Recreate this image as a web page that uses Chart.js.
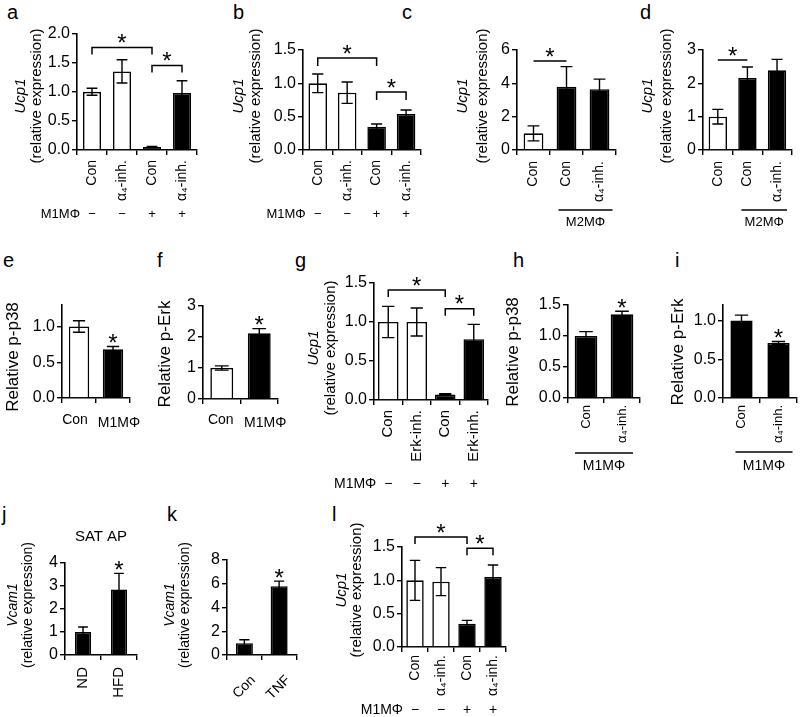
<!DOCTYPE html>
<html>
<head>
<meta charset="utf-8">
<script src="https://cdn.jsdelivr.net/npm/chart.js@4.4.1/dist/chart.umd.min.js"></script>
<style>
  body { margin: 0; background: #fff; width: 800px; height: 717px; position: relative; overflow: hidden;
         font-family: "Liberation Sans", Arial, sans-serif; }
  canvas { position: absolute; }
  .lt { position: absolute; font-size: 20px; line-height: 20px; color: #000; }
</style>
</head>
<body>
<div class="lt" style="left:7px;top:2px">a</div>
<div class="lt" style="left:233px;top:2px">b</div>
<div class="lt" style="left:402px;top:2px">c</div>
<div class="lt" style="left:640px;top:2px">d</div>
<div class="lt" style="left:3px;top:250px">e</div>
<div class="lt" style="left:157px;top:250px">f</div>
<div class="lt" style="left:295px;top:250px">g</div>
<div class="lt" style="left:513px;top:250px">h</div>
<div class="lt" style="left:675px;top:250px">i</div>
<div class="lt" style="left:2px;top:504px">j</div>
<div class="lt" style="left:167px;top:504px">k</div>
<div class="lt" style="left:332px;top:504px">l</div>
<script>
const FONT = '"Liberation Sans", Arial, sans-serif';

// values (mean, error)
const aLabels = ['Con', 'α₄-inh.', 'Con', 'α₄-inh.'];
const aValues = [1.0, 1.35, 0.05, 0.98];
const aErrors = [0.06, 0.2, 0.01, 0.21];
const aSigns = ['−', '−', '+', '+'];

const bLabels = ['Con', 'α₄-inh.', 'Con', 'α₄-inh.'];
const bValues = [1.0, 0.86, 0.35, 0.54];
const bErrors = [0.14, 0.16, 0.04, 0.06];
const bSigns = ['−', '−', '+', '+'];

const cLabels = ['Con', 'Con', 'α₄-inh.'];
const cValues = [1.0, 3.8, 3.65];
const cErrors = [0.45, 1.2, 0.6];

const dLabels = ['Con', 'Con', 'α₄-inh.'];
const dValues = [1.0, 2.16, 2.39];
const dErrors = [0.22, 0.33, 0.33];

const eLabels = ['Con', 'M1MΦ'];
const eValues = [1.0, 0.68];
const eErrors = [0.08, 0.04];

const fLabels = ['Con', 'M1MΦ'];
const fValues = [1.0, 2.12];
const fErrors = [0.07, 0.15];

const gLabels = ['Con', 'Erk-inh.', 'Con', 'Erk-inh.'];
const gValues = [1.0, 1.0, 0.07, 0.78];
const gErrors = [0.2, 0.18, 0.01, 0.19];
const gSigns = ['−', '−', '+', '+'];

const hLabels = ['Con', 'α₄-inh.'];
const hValues = [1.0, 1.35];
const hErrors = [0.07, 0.05];

const iLabels = ['Con', 'α₄-inh.'];
const iValues = [1.0, 0.71];
const iErrors = [0.07, 0.02];

const jLabels = ['ND', 'HFD'];
const jValues = [1.0, 2.85];
const jErrors = [0.22, 0.7];

const kLabels = ['Con', 'TNF'];
const kValues = [1.0, 5.8];
const kErrors = [0.28, 0.42];

const lLabels = ['Con', 'α₄-inh.', 'Con', 'α₄-inh.'];
const lValues = [1.0, 0.98, 0.35, 1.05];
const lErrors = [0.3, 0.21, 0.05, 0.18];
const lSigns = ['−', '−', '+', '+'];

const UCP = [['Ucp1', true], ['(relative expression)', false]];
const VCAM = [['Vcam1', true], ['(relative expression)', false]];

const panels = [
  { box: [0, 22, 232, 218], area: [77, 33, 197, 150], labels: aLabels, values: aValues, errors: aErrors, fills: 'wwkk',
    ymax: 2, step: 0.5, dec: 1, tickSize: 16, labSize: 14, rot: 90, labPad: 5, bar: 0.6,
    ytitle: { lines: UCP, dx: [-56, -40], cy: 96, size: 15 },
    sig: [[0, 2, 1.76], [2, 3, 1.45]], legs: 7, signs: aSigns, signDy: 64, signSize: 13 },
  { box: [228, 22, 200, 218], area: [303, 50, 427, 150], labels: bLabels, values: bValues, errors: bErrors, fills: 'wwkk',
    ymax: 1.5, step: 0.5, dec: 1, tickSize: 16, labSize: 14, rot: 90, labPad: 5, bar: 0.63,
    ytitle: { lines: UCP, dx: [-64, -47], cy: 96, size: 15 },
    sig: [[0, 2, 1.38], [2, 3, 0.87]], legs: 8, signs: bSigns, signDy: 64, signSize: 13 },
  { box: [440, 22, 190, 218], area: [517, 50, 616, 150], labels: cLabels, values: cValues, errors: cErrors, fills: 'wkk',
    ymax: 6, step: 2, dec: 0, tickSize: 16, labSize: 14, rot: 90, labPad: 6, bar: 0.6,
    ytitle: { lines: UCP, dx: [-54, -34], cy: 96, size: 15 },
    sig: [[0, 1, 5.34]], legs: 0,
    group: { from: 1, to: 2, text: 'M2MΦ', lineDy: 60, textDy: 72, ext: [-8, 13], size: 13 } },
  { box: [630, 22, 170, 218], area: [703, 50, 799, 150], labels: dLabels, values: dValues, errors: dErrors, fills: 'wkk',
    ymax: 3, step: 1, dec: 0, tickSize: 16, labSize: 14, rot: 90, labPad: 6, bar: 0.62,
    ytitle: { lines: UCP, dx: [-55, -36], cy: 96, size: 15 },
    sig: [[0, 1, 2.7]], legs: 0,
    group: { from: 1, to: 2, text: 'M2MΦ', lineDy: 60, textDy: 72, ext: [-6, 10], size: 13 } },
  { box: [0, 290, 150, 180], area: [62, 305, 130, 398], labels: eLabels, values: eValues, errors: eErrors, fills: 'wk',
    ymax: 1.3, step: 0.5, dec: 1, tickSize: 16, labSize: 14, rot: 0, labPad: 10, bar: 0.6,
    flatLabels: { shift: [-4, 6], dy: [22, 25] },
    ytitle: { lines: [['Relative p-p38', false]], dx: [-49], cy: 357, size: 17 }, stars: [1] },
  { box: [150, 290, 150, 180], area: [203, 306, 278, 399], labels: fLabels, values: fValues, errors: fErrors, fills: 'wk',
    ymax: 3, step: 1, dec: 0, tickSize: 16, labSize: 14, rot: 0, labPad: 10, bar: 0.61,
    flatLabels: { shift: [-1, 6], dy: [21, 24] },
    ytitle: { lines: [['Relative p-Erk', false]], dx: [-38], cy: 354, size: 17 }, stars: [1] },
  { box: [300, 268, 200, 232], area: [374, 283, 488, 400], labels: gLabels, values: gValues, errors: gErrors, fills: 'wwkk',
    ymax: 1.5, step: 0.5, dec: 1, tickSize: 16, labSize: 15, rot: 90, labPad: 5, bar: 0.72,
    ytitle: { lines: UCP, dx: [-60, -43], cy: 348, size: 15 },
    sig: [[0, 2, 1.41], [2, 3, 1.17]], legs: 7, signs: gSigns, signDy: 84, signSize: 14 },
  { box: [500, 290, 160, 190], area: [568, 305, 640, 398], labels: hLabels, values: hValues, errors: hErrors, fills: 'kk',
    ymax: 1.5, step: 0.5, dec: 1, tickSize: 16, labSize: 13, rot: 90, labPad: 2, bar: 0.63,
    ytitle: { lines: [['Relative p-p38', false]], dx: [-55], cy: 352, size: 17 }, stars: [1],
    group: { from: 0, to: 1, text: 'M1MΦ', lineDy: 55, textDy: 68, ext: [-11, 11], size: 14 } },
  { box: [660, 290, 140, 190], area: [723, 305, 797, 398], labels: iLabels, values: iValues, errors: iErrors, fills: 'kk',
    ymax: 1.2, step: 0.5, dec: 1, tickSize: 16, labSize: 13, rot: 90, labPad: 2, bar: 0.6,
    ytitle: { lines: [['Relative p-Erk', false]], dx: [-45], cy: 352, size: 17 }, stars: [1],
    group: { from: 0, to: 1, text: 'M1MΦ', lineDy: 54, textDy: 68, ext: [-6, 14], size: 14 } },
  { box: [0, 525, 150, 192], area: [65, 563, 137, 655], labels: jLabels, values: jValues, errors: jErrors, fills: 'kk',
    ymax: 4, step: 1, dec: 0, tickSize: 16, labSize: 15, rot: 90, labPad: 7, bar: 0.45, xh: 60,
    ytitle: { lines: VCAM, dx: [-52, -37], cy: 605, size: 14 }, stars: [1],
    title: { text: 'SAT AP', dy: -26, size: 15 } },
  { box: [150, 530, 155, 187], area: [227, 560, 297, 655], labels: kLabels, values: kValues, errors: kErrors, fills: 'kk',
    ymax: 8, step: 2, dec: 0, tickSize: 16, labSize: 14, rot: 45, labPad: 12, bar: 0.49, xh: 60, labOff: 9,
    ytitle: { lines: VCAM, dx: [-57, -42], cy: 605, size: 14 }, stars: [1] },
  { box: [320, 515, 200, 202], area: [402, 547, 506, 647], labels: lLabels, values: lValues, errors: lErrors, fills: 'wwkk',
    ymax: 1.5, step: 0.5, dec: 1, tickSize: 16, labSize: 14, rot: 90, labPad: 3, bar: 0.67,
    ytitle: { lines: UCP, dx: [-60, -45], cy: 590, size: 15 },
    sig: [[0, 2, 1.65], [2, 3, 1.48]], legs: 7, signs: lSigns, signDy: 63, signSize: 14 }
];

function star(ctx, x, cy) {
  ctx.font = '24px ' + FONT;
  ctx.textAlign = 'center';
  ctx.textBaseline = 'alphabetic';
  ctx.fillText('*', x, cy + 0.57 * 24);
}

function makeDeco(p) {
  return {
    id: 'deco',
    afterDatasetsDraw(chart) {
      const ctx = chart.ctx;
      const xs = chart.scales.x, ys = chart.scales.y;
      const area = chart.chartArea;
      const offY = p.box[1];
      ctx.save();
      ctx.strokeStyle = '#000';
      ctx.fillStyle = '#000';
      ctx.lineWidth = 1.4;

      // error bars
      chart.getDatasetMeta(0).data.forEach((bar, i) => {
        const v = p.values[i], e = p.errors[i];
        const y1 = ys.getPixelForValue(v + e), y2 = ys.getPixelForValue(v - e);
        const half = bar.width * 0.3;
        ctx.beginPath();
        ctx.moveTo(bar.x, y2); ctx.lineTo(bar.x, y1);
        ctx.moveTo(bar.x - half, y1); ctx.lineTo(bar.x + half, y1);
        ctx.moveTo(bar.x - half, y2); ctx.lineTo(bar.x + half, y2);
        ctx.stroke();
      });

      // significance brackets
      (p.sig || []).forEach(([a, b, yv]) => {
        const x1 = xs.getPixelForValue(a), x2 = xs.getPixelForValue(b);
        const y = ys.getPixelForValue(yv);
        ctx.lineWidth = 1.5;
        ctx.beginPath();
        ctx.moveTo(x1, y + p.legs); ctx.lineTo(x1, y); ctx.lineTo(x2, y); ctx.lineTo(x2, y + p.legs);
        ctx.stroke();
        star(ctx, (x1 + x2) / 2, y - 10);
      });
      (p.stars || []).forEach(i => {
        star(ctx, xs.getPixelForValue(i), ys.getPixelForValue(p.values[i] + p.errors[i]) - 9);
      });

      // horizontal category labels with a small nudge each
      if (p.flatLabels) {
        ctx.font = p.labSize + 'px ' + FONT;
        ctx.textAlign = 'center';
        ctx.textBaseline = 'middle';
        p.labels.forEach((s, i) => {
          ctx.fillText(s, xs.getPixelForValue(i) + p.flatLabels.shift[i], area.bottom + p.flatLabels.dy[i]);
        });
      }

      // y-axis title
      const t = p.ytitle;
      t.lines.forEach(([txt, italic], k) => {
        ctx.save();
        ctx.translate(area.left + t.dx[k], t.cy - offY);
        ctx.rotate(-Math.PI / 2);
        ctx.font = (italic ? 'italic ' : '') + t.size + 'px ' + FONT;
        ctx.textAlign = 'center';
        ctx.textBaseline = 'middle';
        ctx.fillText(txt, 0, 0);
        ctx.restore();
      });

      // treatment row (− − + +)
      if (p.signs) {
        const y = area.bottom + p.signDy;
        ctx.font = p.signSize + 'px ' + FONT;
        ctx.textBaseline = 'middle';
        ctx.textAlign = 'right';
        ctx.fillText('M1MΦ', xs.getPixelForValue(0) - 12, y);
        ctx.textAlign = 'center';
        p.signs.forEach((s, i) => ctx.fillText(s, xs.getPixelForValue(i), y));
      }

      // group underline
      if (p.group) {
        const g = p.group;
        const x1 = xs.getPixelForValue(g.from) + g.ext[0], x2 = xs.getPixelForValue(g.to) + g.ext[1];
        ctx.lineWidth = 1.3;
        ctx.beginPath();
        ctx.moveTo(x1, area.bottom + g.lineDy); ctx.lineTo(x2, area.bottom + g.lineDy);
        ctx.stroke();
        ctx.font = g.size + 'px ' + FONT;
        ctx.textAlign = 'center';
        ctx.textBaseline = 'middle';
        ctx.fillText(g.text, (x1 + x2) / 2, area.bottom + g.textDy);
      }

      if (p.title) {
        ctx.font = p.title.size + 'px ' + FONT;
        ctx.textAlign = 'center';
        ctx.textBaseline = 'middle';
        ctx.fillText(p.title.text, (area.left + area.right) / 2, area.top + p.title.dy);
      }
      ctx.restore();
    }
  };
}

const YW = 40;

panels.forEach(p => {
  const [bx, by, bw, bh] = p.box;
  const [l, t, r, b] = p.area;
  const XH = p.xh || 66;
  const cv = document.createElement('canvas');
  cv.width = bw; cv.height = bh;
  cv.style.left = bx + 'px'; cv.style.top = by + 'px';
  cv.style.width = bw + 'px'; cv.style.height = bh + 'px';
  document.body.appendChild(cv);

  const fills = p.fills.split('').map(c => (c === 'w' ? '#fff' : '#000'));

  new Chart(cv, {
    type: 'bar',
    data: {
      labels: p.labels,
      datasets: [{
        data: p.values,
        backgroundColor: fills,
        borderColor: '#000',
        borderWidth: 1.6,
        borderSkipped: 'bottom',
        barPercentage: p.bar,
        categoryPercentage: 1
      }]
    },
    options: {
      responsive: false,
      animation: false,
      devicePixelRatio: 1,
      layout: { padding: { left: l - bx - YW, top: t - by, right: bx + bw - r, bottom: by + bh - b - XH } },
      plugins: { legend: { display: false }, tooltip: { enabled: false } },
      scales: {
        x: {
          offset: true,
          grid: { display: true, drawOnChartArea: false, drawTicks: true, tickLength: 5, color: '#000', lineWidth: 1.4, offset: true },
          border: { display: true, color: '#000', width: 1.6 },
          ticks: { display: !p.flatLabels, color: '#000', font: { family: FONT, size: p.labSize },
                   minRotation: p.rot, maxRotation: p.rot, padding: p.labPad, autoSkip: false,
                   labelOffset: p.labOff || 0 },
          afterFit: s => { s.height = XH; }
        },
        y: {
          min: 0,
          max: p.ymax,
          grid: { display: true, drawOnChartArea: false, drawTicks: true, tickLength: 5, color: '#000', lineWidth: 1.4 },
          border: { display: true, color: '#000', width: 1.6 },
          ticks: { stepSize: p.step, includeBounds: false, color: '#000', font: { family: FONT, size: p.tickSize },
                   padding: 2, callback: v => v.toFixed(p.dec) },
          afterFit: s => { s.width = YW; }
        }
      }
    },
    plugins: [makeDeco(p)]
  });
});
</script>
</body>
</html>
